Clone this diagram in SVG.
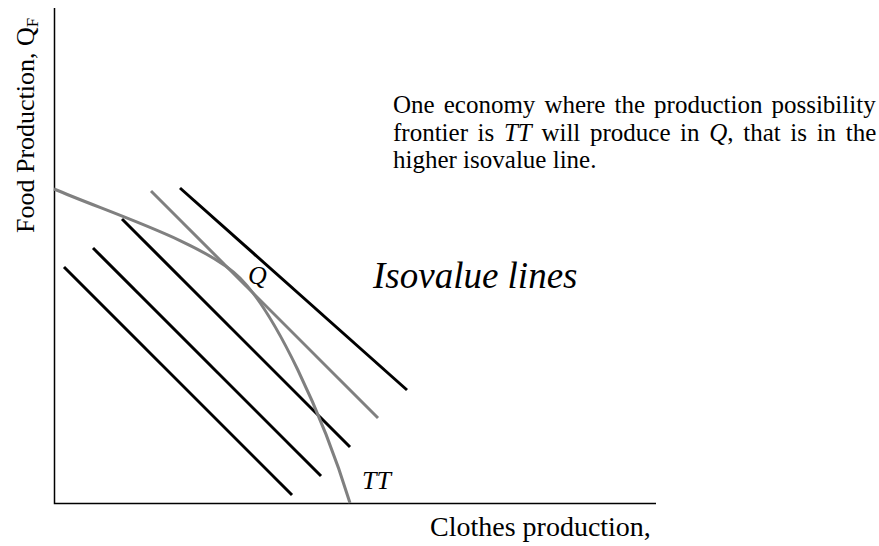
<svg xmlns="http://www.w3.org/2000/svg" width="879" height="546" viewBox="0 0 879 546">
<style>
.axis{stroke:#000;stroke-width:1.5;fill:none}
.iso{stroke:#000;stroke-width:3;fill:none}
.gray{stroke:#808080;stroke-width:3;fill:none}
.t{font-family:"Liberation Serif","Times New Roman",serif;fill:#000}
.i{font-style:italic}
</style>
<rect width="879" height="546" fill="#fff"/>
<g id="axes">
<path class="axis" d="M54.5,8 V503.5 H656"/>
</g>
<g id="connectors">
<line class="iso" x1="64" y1="267" x2="292" y2="495"/>
<line class="iso" x1="93" y1="248" x2="321" y2="476"/>
<line class="iso" x1="122" y1="219" x2="350" y2="447"/>
<line class="iso" x1="180" y1="188" x2="407" y2="390"/>
<line class="gray" x1="151" y1="191" x2="378" y2="418"/>
<path class="gray" d="M54,189 C110,213 205,243 240,278 C275,313 322,412 350,503"/>
</g>
<g id="ylabel"><text class="t" transform="translate(34,233) rotate(-90)" font-size="26">Food Production, Q<tspan font-size="17" dy="4">F</tspan></text></g>
<g id="xlabel"><text class="t" x="430" y="536" font-size="28">Clothes production,</text></g>
<g id="note">
<text class="t" x="393" y="113" font-size="25" word-spacing="2.8">One economy where the production possibility</text>
<text class="t" x="393" y="140.5" font-size="25" word-spacing="3.4">frontier is <tspan class="i">TT</tspan> will produce in <tspan class="i">Q</tspan>, that is in the</text>
<text class="t" x="393" y="168" font-size="25">higher isovalue line.</text>
</g>
<g id="iso-label"><text class="t i" x="373" y="288" font-size="37">Isovalue lines</text></g>
<g id="q-label"><text class="t i" x="248" y="284" font-size="26">Q</text></g>
<g id="tt-label"><text class="t i" x="362" y="489" font-size="26">TT</text></g>
</svg>
